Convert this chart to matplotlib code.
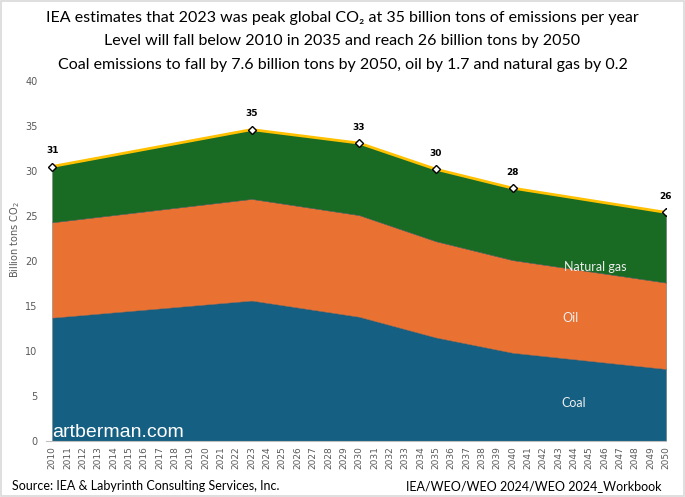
import matplotlib
matplotlib.use("Agg")
import matplotlib.pyplot as plt
from matplotlib.patches import Rectangle

# key years from the IEA workbook (values in billion tons CO2)
years = [2010, 2023, 2030, 2035, 2040, 2050]
coal = [13.7, 15.6, 13.8, 11.5, 9.8, 8.0]
oil = [10.6, 11.3, 11.3, 10.7, 10.3, 9.6]
natural_gas = [6.2, 7.7, 8.0, 8.0, 8.0, 7.8]
total_labels = ["31", "35", "33", "30", "28", "26"]
tick_years = list(range(2010, 2051))

title_lines = [
    "IEA estimates that 2023 was peak global CO\u2082 at 35 billion tons of emissions per year",
    "Level will fall below 2010 in 2035 and reach 26 billion tons by 2050",
    "Coal emissions to fall by 7.6 billion tons by 2050, oil by 1.7 and natural gas by 0.2",
]

narrow = ["Lato", "DejaVu Sans"]

fig = plt.figure(figsize=(6.85, 4.97), dpi=100)
fig.patches.append(Rectangle((0.002, 0.002), 0.996, 0.996, transform=fig.transFigure,
                             fill=False, edgecolor="#d9d9d9", linewidth=1.2))

ax = fig.add_axes([46 / 685, 1 - 441 / 497, 620 / 685, 360 / 497])

total = [c + o + g for c, o, g in zip(coal, oil, natural_gas)]
ax.stackplot(years, coal, oil, natural_gas,
             colors=["#156082", "#E97132", "#196B24"],
             edgecolor="#555555", linewidth=0.3)
ax.plot(years, total, color="#FFC000", linewidth=2, zorder=3)
ax.plot(years, total, linestyle="none", marker="D", markersize=4.5,
        markerfacecolor="white", markeredgecolor="black", markeredgewidth=1, zorder=4)
for x, y, lab in zip(years, total, total_labels):
    ax.annotate(lab, (x, y), xytext=(0, 8), textcoords="offset points",
                ha="center", va="bottom", fontsize=6.5, fontweight="bold")

ax.set_xlim(2009.6, 2050)
ax.set_ylim(0, 40)
ax.set_yticks(range(0, 41, 5))
ax.set_xticks(tick_years)
ax.set_xticklabels([str(y) for y in tick_years], rotation=90)
ax.tick_params(axis="both", length=0, labelsize=6.5, labelcolor="#595959")
ax.tick_params(axis="y", pad=6, labelsize=7)
ax.tick_params(axis="x", pad=4)
for s in ["top", "right", "left"]:
    ax.spines[s].set_visible(False)
ax.spines["bottom"].set_color("#bfbfbf")

ax.text(2045.4, 19.3, "Natural gas", color="#eeeeee", fontsize=9,
        ha="center", va="center", family=narrow)
ax.text(2043.8, 13.7, "Oil", color="#eeeeee", fontsize=9,
        ha="center", va="center", family=narrow)
ax.text(2044.0, 4.2, "Coal", color="#eeeeee", fontsize=9,
        ha="center", va="center", family=narrow)
ax.text(2010.0, 0.9, "artberman.com", color="white", fontsize=14,
        ha="left", va="center", family="Liberation Sans")

fig.text(15 / 685, 1 - 239 / 497, "Billion tons CO$_2$", rotation=90,
         ha="center", va="center", fontsize=7, color="#595959")

for i, line in enumerate(title_lines):
    fig.text(0.5, 1 - (18 + 23.5 * i) / 497, line, ha="center", va="center",
             fontsize=11.5, family=narrow)

fig.text(12 / 685, 1 - 486 / 497, "Source: IEA & Labyrinth Consulting Services, Inc.",
         ha="left", va="center", fontsize=9, family=narrow)
fig.text(662 / 685, 1 - 486 / 497, "IEA/WEO/WEO 2024/WEO 2024_Workbook",
         ha="right", va="center", fontsize=9, family=narrow)

fig.savefig("out.png", dpi=100)
